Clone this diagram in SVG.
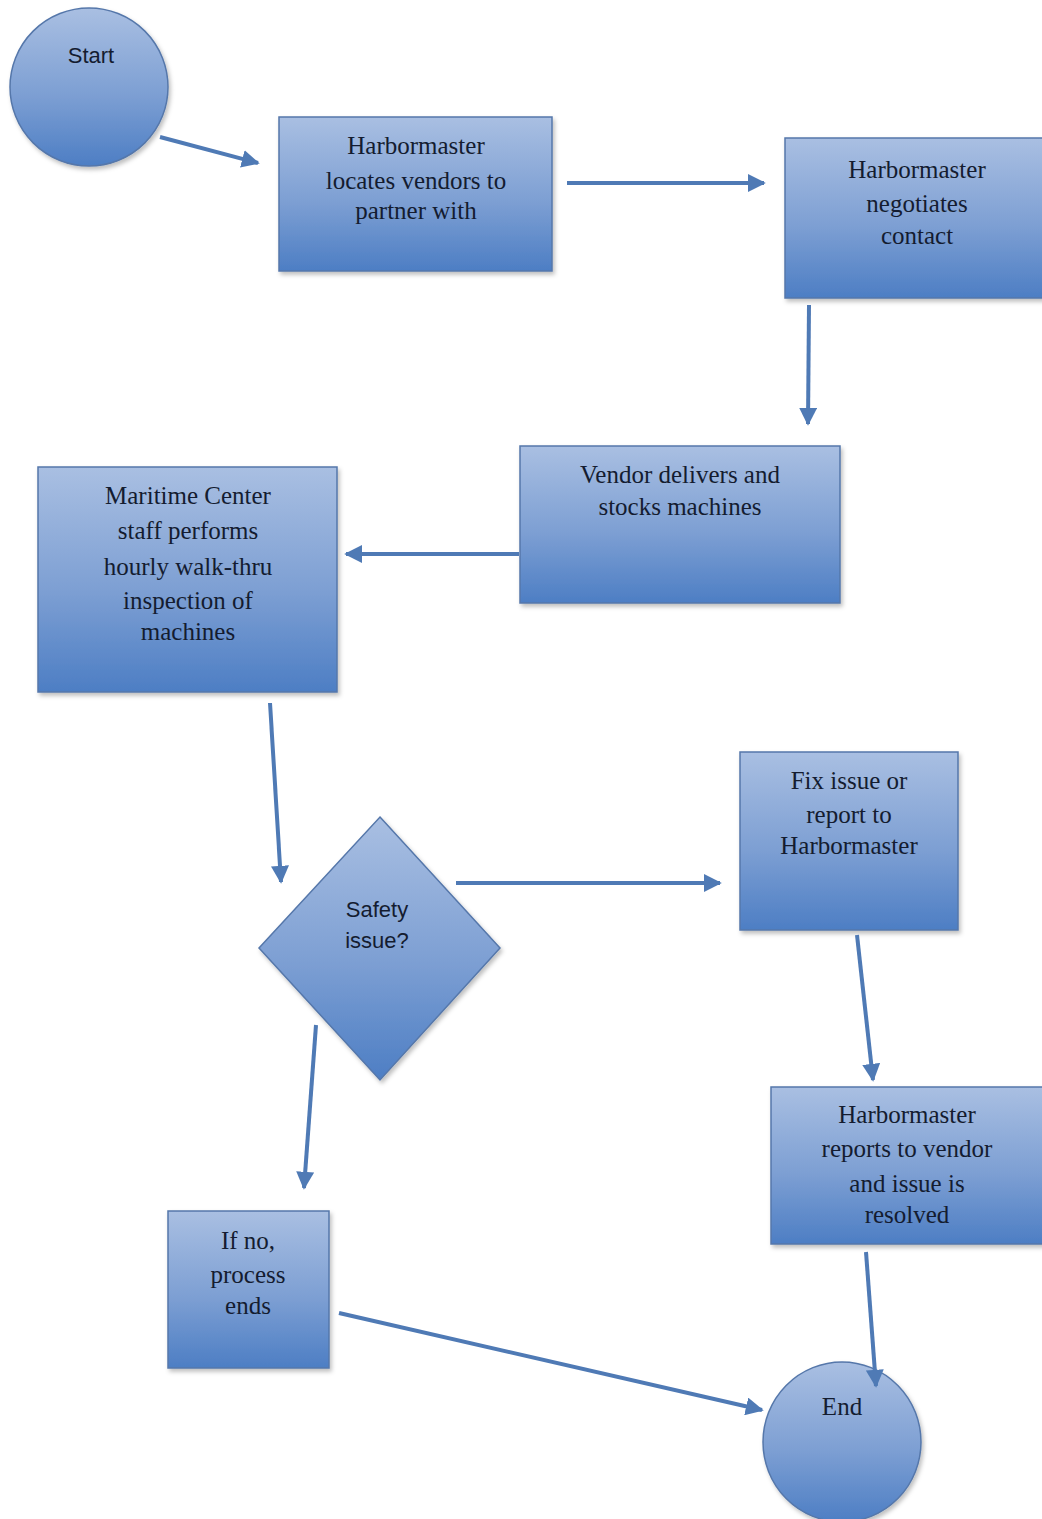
<svg xmlns="http://www.w3.org/2000/svg" width="1042" height="1519" viewBox="0 0 1042 1519">
<defs>
<linearGradient id="g" x1="0" y1="0" x2="0" y2="1">
<stop offset="0" stop-color="#a9bfe2"/>
<stop offset="0.55" stop-color="#7d9fd3"/>
<stop offset="1" stop-color="#4d7ec4"/>
</linearGradient>
<filter id="sh" x="-10%" y="-10%" width="125%" height="125%">
<feDropShadow dx="2" dy="3" stdDeviation="2" flood-color="#000" flood-opacity="0.25"/>
</filter>
<marker id="ah" viewBox="0 0 10 10" refX="9" refY="5" markerWidth="4.5" markerHeight="4.5" orient="auto" markerUnits="strokeWidth">
<path d="M0,0 L10,5 L0,10 z" fill="#4f7ab5"/>
</marker>
</defs>
<style>
.n{fill:url(#g);stroke:#5577aa;stroke-width:1.5;filter:url(#sh)}
.t{font-family:"Liberation Serif","DejaVu Serif",serif;font-size:25px;fill:#141c30;text-anchor:middle}
.s{font-family:"Liberation Sans","DejaVu Sans",sans-serif;font-size:22px;fill:#141c30;text-anchor:middle}
.c{fill:none;stroke:#4f7ab5;stroke-width:4;marker-end:url(#ah)}
</style>
<rect width="1042" height="1519" fill="#ffffff"/>
<g id="start">
<circle class="n" cx="89" cy="87" r="79"/>
<text class="s" x="91" y="63">Start</text>
</g>
<g id="locate">
<rect class="n" x="279" y="117" width="273" height="154"/>
<text class="t" x="416" y="154">Harbormaster</text>
<text class="t" x="416" y="189">locates vendors to</text>
<text class="t" x="416" y="219">partner with</text>
</g>
<g id="negotiate">
<rect class="n" x="785" y="138" width="262" height="160"/>
<text class="t" x="917" y="178">Harbormaster</text>
<text class="t" x="917" y="212">negotiates</text>
<text class="t" x="917" y="244">contact</text>
</g>
<g id="deliver">
<rect class="n" x="520" y="446" width="320" height="157"/>
<text class="t" x="680" y="483">Vendor delivers and</text>
<text class="t" x="680" y="515">stocks machines</text>
</g>
<g id="inspect">
<rect class="n" x="38" y="467" width="299" height="225"/>
<text class="t" x="188" y="504">Maritime Center</text>
<text class="t" x="188" y="539">staff performs</text>
<text class="t" x="188" y="575">hourly walk-thru</text>
<text class="t" x="188" y="609">inspection of</text>
<text class="t" x="188" y="640">machines</text>
</g>
<g id="safety">
<polygon class="n" points="380,817 500,948 380,1080 259,948"/>
<text class="s" x="377" y="917">Safety</text>
<text class="s" x="377" y="948">issue?</text>
</g>
<g id="fix">
<rect class="n" x="740" y="752" width="218" height="178"/>
<text class="t" x="849" y="789">Fix issue or</text>
<text class="t" x="849" y="823">report to</text>
<text class="t" x="849" y="854">Harbormaster</text>
</g>
<g id="resolve">
<rect class="n" x="771" y="1087" width="276" height="157"/>
<text class="t" x="907" y="1123">Harbormaster</text>
<text class="t" x="907" y="1157">reports to vendor</text>
<text class="t" x="907" y="1192">and issue is</text>
<text class="t" x="907" y="1223">resolved</text>
</g>
<g id="ifno">
<rect class="n" x="168" y="1211" width="161" height="157"/>
<text class="t" x="248" y="1249">If no,</text>
<text class="t" x="248" y="1283">process</text>
<text class="t" x="248" y="1314">ends</text>
</g>
<g id="end">
<ellipse class="n" cx="842" cy="1442" rx="79" ry="80"/>
<text class="t" x="842" y="1415">End</text>
</g>
<g id="connectors">
<line class="c" x1="160" y1="137" x2="258" y2="163"/>
<line class="c" x1="567" y1="183" x2="764" y2="183"/>
<line class="c" x1="809" y1="305" x2="808" y2="424"/>
<line class="c" x1="519" y1="554" x2="346" y2="554"/>
<line class="c" x1="270" y1="703" x2="281" y2="882"/>
<line class="c" x1="456" y1="883" x2="720" y2="883"/>
<line class="c" x1="316" y1="1025" x2="304" y2="1188"/>
<line class="c" x1="857" y1="935" x2="873" y2="1080"/>
<line class="c" x1="866" y1="1252" x2="876" y2="1386"/>
<line class="c" x1="339" y1="1313" x2="762" y2="1410"/>
</g>
</svg>
